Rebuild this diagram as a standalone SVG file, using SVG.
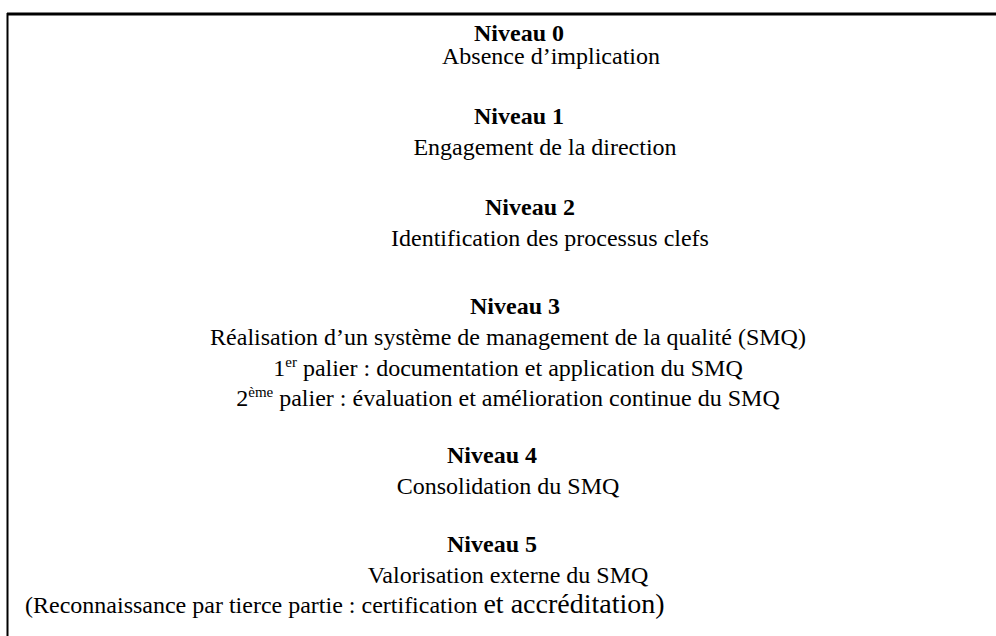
<svg xmlns="http://www.w3.org/2000/svg" width="996" height="636" viewBox="0 0 996 636">
  <style>
    .t { font-family: "Liberation Serif", "Times New Roman", serif; font-size: 24px; fill: #000; }
    .b { font-weight: bold; }
    .c { text-anchor: middle; }
    .sup { font-size: 15px; }
    .big { font-size: 28px; }
  </style>
  <rect width="996" height="636" fill="#fff"/>
  <!-- frame: top rule and left rule -->
  <g id="frame" stroke="#000" fill="none">
    <line x1="7" y1="14" x2="996" y2="14" stroke-width="3"/>
    <line x1="7.5" y1="13" x2="7.5" y2="636" stroke-width="2"/>
  </g>
  <g id="niveau0">
    <text class="t b c" x="519" y="41">Niveau 0</text>
    <text class="t c" x="551" y="64">Absence d’implication</text>
  </g>
  <g id="niveau1">
    <text class="t b c" x="519" y="124">Niveau 1</text>
    <text class="t c" x="545" y="155">Engagement de la direction</text>
  </g>
  <g id="niveau2">
    <text class="t b c" x="530" y="215">Niveau 2</text>
    <text class="t c" x="550" y="246">Identification des processus clefs</text>
  </g>
  <g id="niveau3">
    <text class="t b c" x="515" y="314">Niveau 3</text>
    <text class="t c" x="508" y="345">Réalisation d’un système de management de la qualité (SMQ)</text>
    <text class="t c" x="508" y="376">1<tspan class="sup" dy="-9">er</tspan><tspan dy="9"> palier : documentation et application du SMQ</tspan></text>
    <text class="t c" x="508" y="406">2<tspan class="sup" dy="-9">ème</tspan><tspan dy="9"> palier : évaluation et amélioration continue du SMQ</tspan></text>
  </g>
  <g id="niveau4">
    <text class="t b c" x="492" y="463">Niveau 4</text>
    <text class="t c" x="508" y="494">Consolidation du SMQ</text>
  </g>
  <g id="niveau5">
    <text class="t b c" x="492" y="552">Niveau 5</text>
    <text class="t c" x="508" y="583">Valorisation externe du SMQ</text>
    <text class="t" x="25" y="613">(Reconnaissance par tierce partie : certification <tspan class="big">et accréditation)</tspan></text>
  </g>
</svg>
